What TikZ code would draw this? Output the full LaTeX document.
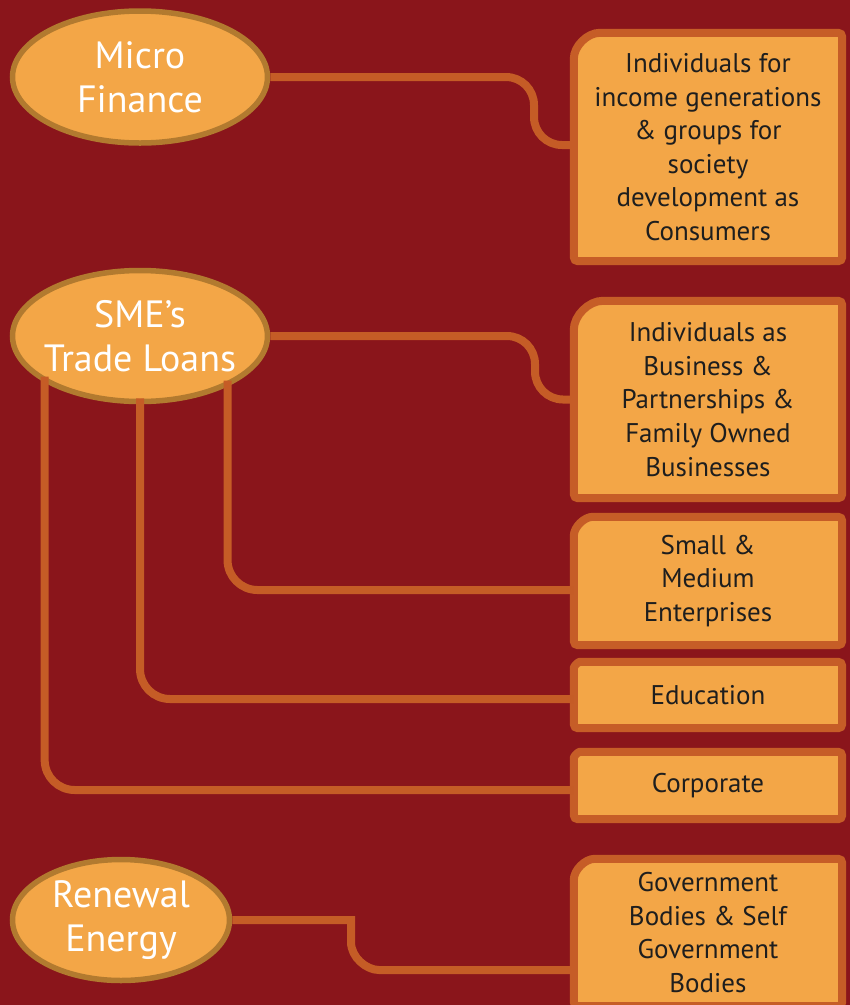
\documentclass[tikz,border=0pt]{standalone}
\usepackage{fontspec}
\setmainfont{PT Sans}
\usetikzlibrary{shapes.geometric}
\definecolor{bgred}{HTML}{8A151B}
\definecolor{orfill}{HTML}{F3A647}
\definecolor{ellline}{HTML}{B27A2F}
\definecolor{boxline}{HTML}{C65D27}
\definecolor{connline}{HTML}{C55C26}
\definecolor{boxtext}{HTML}{1E1E1E}
\pgfdeclarelayer{bg}
\pgfsetlayers{bg,main}
\newcommand\mybox[2]{\draw[boxedge] ([yshift=-#2]#1.north west) .. controls ([yshift=-0.448*#2]#1.north west) and ([xshift=0.448*#2]#1.north west) .. ([xshift=#2]#1.north west) -- (#1.north east) -- (#1.south east) -- (#1.south west) -- cycle;}
\begin{document}
\begin{tikzpicture}[x=1pt,y=-1pt,
  ell/.style={ellipse, fill=orfill, draw=ellline, line width=5.5pt, inner sep=-20pt, text=white, align=center, font=\fontsize{38}{44}\selectfont},
  tbox/.style={rectangle, inner sep=0pt, minimum width=268pt, text=boxtext, align=center, font=\fontsize{27}{33.6}\selectfont},
  boxedge/.style={fill=orfill, draw=boxline, line width=8pt, rounded corners=4pt},
  conn/.style={draw=connline, line width=8pt}]
\useasboundingbox (0,0) rectangle (850,1005);

% ellipses
\node[ell, minimum width=255pt, minimum height=132pt] (m) at (140,77) {Micro\\Finance};
\node[ell, minimum width=255pt, minimum height=131pt] (s) at (140,336) {SME’s\\Trade Loans};
\node[ell, minimum width=217pt, minimum height=121pt] (r) at (121,920) {Renewal\\Energy};

% boxes
\node[tbox, minimum height=228pt] (b1) at (708,147) {Individuals for\\income generations\\\& groups for\\society\\development as\\Consumers};
\node[tbox, minimum height=197pt] (b2) at (708,399.5) {Individuals as\\Business \&\\Partnerships \&\\Family Owned\\Businesses};
\node[tbox, minimum height=128pt] (b3) at (708,581) {Small \&\\Medium\\Enterprises};
\node[tbox, minimum height=66pt] (b4) at (708,695) {Education};
\node[tbox, minimum height=67pt] (b5) at (708,785.5) {Corporate};
\node[tbox, minimum height=147pt] (b6) at (708,932.5) {Government\\Bodies \& Self\\Government\\Bodies};

\begin{pgfonlayer}{bg}
\fill[bgred] (0,0) rectangle (850,1005);
\draw[conn, rounded corners=28pt] (m.east) -- (534,77) -- (534,145) -- ([yshift=2pt]b1.west);
\draw[conn, rounded corners=28pt] (s.east) -- (535,336) -- (535,399.5) -- (b2.west);
\draw[conn] (r.east) -- (351,920) -- (351,942) .. controls (351,957.5) and (366.5,970) .. (379,970) -- ([yshift=-37.5pt]b6.west);
\mybox{b1}{30pt}
\mybox{b2}{33pt}
\mybox{b3}{23pt}
\mybox{b4}{10pt}
\mybox{b5}{10pt}
\mybox{b6}{25pt}
\end{pgfonlayer}

\draw[conn, rounded corners=30pt] ([yshift=6pt]s.-30) |- ([yshift=-9pt]b3.west);
\draw[conn, rounded corners=30pt] ([yshift=6pt]s.south) |- ([yshift=-4pt]b4.west);
\draw[conn, rounded corners=30pt] ([yshift=6pt]s.-154) |- ([yshift=-4.5pt]b5.west);
\end{tikzpicture}
\end{document}
